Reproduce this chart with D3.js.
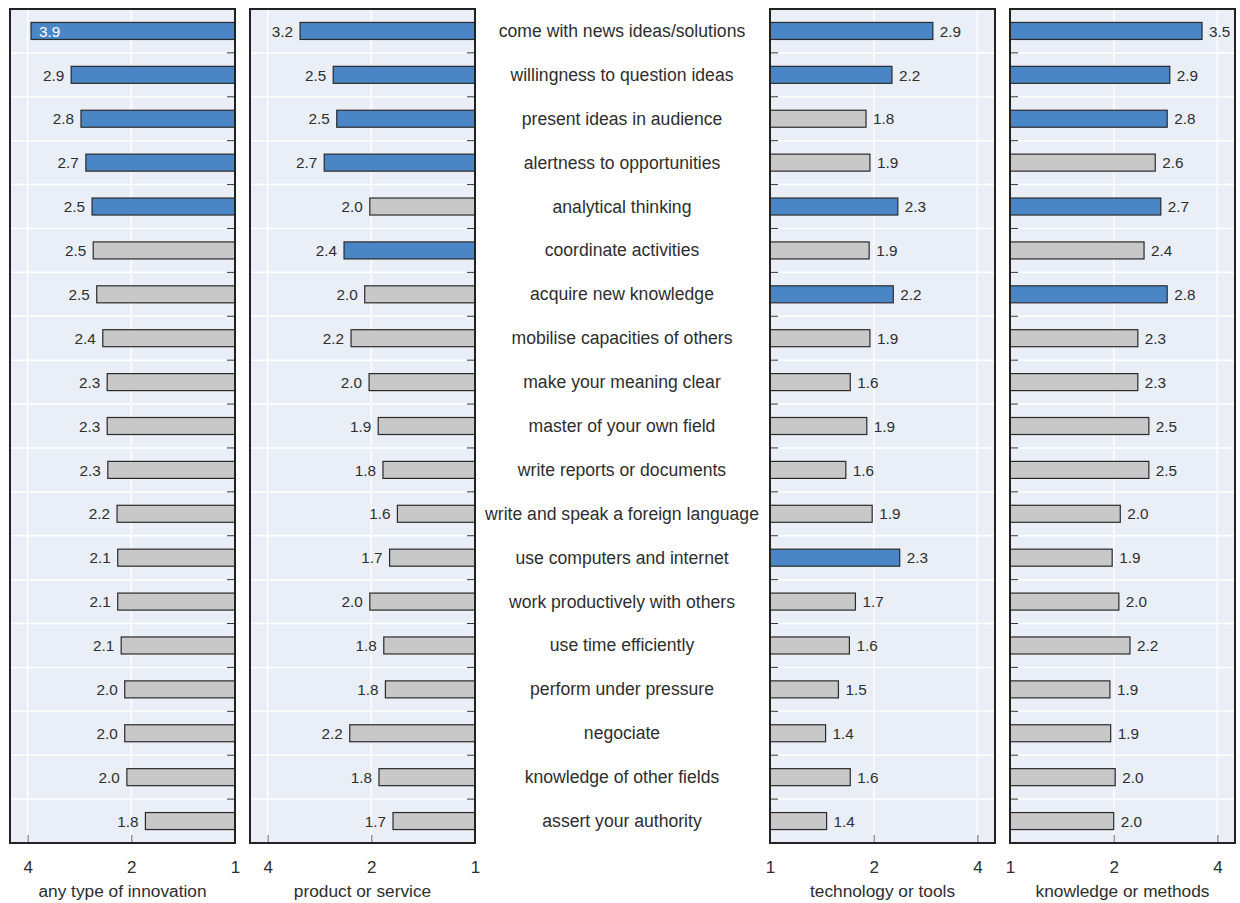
<!DOCTYPE html>
<html>
<head>
<meta charset="utf-8">
<script src="https://cdn.jsdelivr.net/npm/d3@7"></script>
<style>
  body { margin: 0; background: #ffffff; }
  svg text { font-family: "Liberation Sans", Arial, sans-serif; fill: #2e2e2e; }
</style>
</head>
<body>
<svg id="chart" width="1240" height="903"></svg>
<script>
const categories = [
  "come with news ideas/solutions",
  "willingness to question ideas",
  "present ideas in audience",
  "alertness to opportunities",
  "analytical thinking",
  "coordinate activities",
  "acquire new knowledge",
  "mobilise capacities of others",
  "make your meaning clear",
  "master of your own field",
  "write reports or documents",
  "write and speak a foreign language",
  "use computers and internet",
  "work productively with others",
  "use time efficiently",
  "perform under pressure",
  "negociate",
  "knowledge of other fields",
  "assert your authority"
];

// bar values and the printed labels
const anyTypeValues    = [3.91, 2.99, 2.80, 2.71, 2.60, 2.58, 2.52, 2.42, 2.35, 2.35, 2.34, 2.20, 2.19, 2.19, 2.14, 2.09, 2.09, 2.06, 1.82];
const anyTypeLabels    = ["3.9","2.9","2.8","2.7","2.5","2.5","2.5","2.4","2.3","2.3","2.3","2.2","2.1","2.1","2.1","2.0","2.0","2.0","1.8"];
const anyTypeHighlight = [1, 1, 1, 1, 1, 0, 0, 0, 0, 0, 0, 0, 0, 0, 0, 0, 0, 0, 0];

const productValues    = [3.22, 2.58, 2.52, 2.74, 2.02, 2.40, 2.09, 2.29, 2.03, 1.91, 1.85, 1.68, 1.77, 2.02, 1.84, 1.82, 2.31, 1.90, 1.73];
const productLabels    = ["3.2","2.5","2.5","2.7","2.0","2.4","2.0","2.2","2.0","1.9","1.8","1.6","1.7","2.0","1.8","1.8","2.2","1.8","1.7"];
const productHighlight = [1, 1, 1, 1, 0, 1, 0, 0, 0, 0, 0, 0, 0, 0, 0, 0, 0, 0, 0];

const technologyValues    = [2.97, 2.26, 1.90, 1.95, 2.35, 1.94, 2.28, 1.95, 1.71, 1.91, 1.66, 1.98, 2.38, 1.77, 1.70, 1.58, 1.45, 1.71, 1.46];
const technologyLabels    = ["2.9","2.2","1.8","1.9","2.3","1.9","2.2","1.9","1.6","1.9","1.6","1.9","2.3","1.7","1.6","1.5","1.4","1.6","1.4"];
const technologyHighlight = [1, 1, 0, 0, 1, 0, 1, 0, 0, 0, 0, 0, 1, 0, 0, 0, 0, 0, 0];

const knowledgeValues    = [3.61, 2.91, 2.86, 2.64, 2.74, 2.45, 2.86, 2.35, 2.35, 2.53, 2.53, 2.09, 1.98, 2.07, 2.23, 1.95, 1.96, 2.02, 2.00];
const knowledgeLabels    = ["3.5","2.9","2.8","2.6","2.7","2.4","2.8","2.3","2.3","2.5","2.5","2.0","1.9","2.0","2.2","1.9","1.9","2.0","2.0"];
const knowledgeHighlight = [1, 1, 1, 0, 1, 0, 1, 0, 0, 0, 0, 0, 0, 0, 0, 0, 0, 0, 0];

const panelTitles = ["any type of innovation", "product or service", "technology or tools", "knowledge or methods"];
const tickValues = [1, 2, 4];
const tickLabels = ["1", "2", "4"];
const xDomain = [1, 4.5];

const svg = d3.select("#chart");
const W = 225, TOP = 9, BOTTOM = 843;
const BLUE = "#4a86c6", GREY = "#c8c8c8", BG = "#e9eef7";

const panels = [
  { title: panelTitles[0], values: anyTypeValues, labels: anyTypeLabels, hi: anyTypeHighlight, x0: 10, reversed: true },
  { title: panelTitles[1], values: productValues, labels: productLabels, hi: productHighlight, x0: 250, reversed: true },
  { title: panelTitles[2], values: technologyValues, labels: technologyLabels, hi: technologyHighlight, x0: 770, reversed: false },
  { title: panelTitles[3], values: knowledgeValues, labels: knowledgeLabels, hi: knowledgeHighlight, x0: 1010, reversed: false }
];

const y = d3.scaleBand().domain(categories).range([TOP, BOTTOM]).paddingInner(0).paddingOuter(0);
const barH = 17;

// category labels
svg.append("g").selectAll("text").data(categories).join("text")
  .attr("x", 622)
  .attr("y", d => y(d) + y.bandwidth() / 2)
  .attr("dy", "0.34em")
  .attr("text-anchor", "middle")
  .style("font-size", "17.6px")
  .text(d => d);

panels.forEach(p => {
  const x = d3.scaleLog().domain(xDomain)
    .range(p.reversed ? [p.x0 + W, p.x0] : [p.x0, p.x0 + W]);
  const g = svg.append("g");

  g.append("rect").attr("x", p.x0).attr("y", TOP).attr("width", W).attr("height", BOTTOM - TOP)
    .attr("fill", BG);

  // vertical gridlines
  g.append("g").selectAll("line").data(tickValues.filter(t => t > 1)).join("line")
    .attr("x1", d => x(d)).attr("x2", d => x(d))
    .attr("y1", TOP).attr("y2", BOTTOM)
    .attr("stroke", "#ffffff").attr("stroke-width", 1.5);

  // horizontal gridlines between rows
  const bounds = categories.slice(1).map(c => y(c));
  g.append("g").selectAll("line").data(bounds).join("line")
    .attr("x1", p.x0).attr("x2", p.x0 + W)
    .attr("y1", d => d).attr("y2", d => d)
    .attr("stroke", "#ffffff").attr("stroke-width", 1.5);

  // category ticks at the value-1 edge
  const x1 = x(1);
  const dir = p.reversed ? -1 : 1;
  g.append("g").selectAll("line").data(bounds).join("line")
    .attr("x1", x1).attr("x2", x1 + dir * 8)
    .attr("y1", d => d).attr("y2", d => d)
    .attr("stroke", "#333").attr("stroke-width", 1);

  // bars
  const rows = categories.map((c, i) => ({ c, v: p.values[i], label: p.labels[i], hi: p.hi[i] }));
  g.append("g").selectAll("rect").data(rows).join("rect")
    .attr("x", d => Math.min(x(1), x(d.v)))
    .attr("width", d => Math.abs(x(d.v) - x(1)))
    .attr("y", d => y(d.c) + y.bandwidth() / 2 - barH / 2)
    .attr("height", barH)
    .attr("fill", d => d.hi ? BLUE : GREY)
    .attr("stroke", "#2a2a2a").attr("stroke-width", 1.2);

  // value labels
  g.append("g").selectAll("text").data(rows).join("text")
    .each(function (d) {
      const t = d3.select(this);
      const xe = x(d.v);
      const inside = p.reversed ? (xe - 30 < p.x0) : (xe + 30 > p.x0 + W);
      let tx, anchor;
      if (p.reversed) {
        if (inside) { tx = xe + 8; anchor = "start"; } else { tx = xe - 7; anchor = "end"; }
      } else {
        if (inside) { tx = xe - 8; anchor = "end"; } else { tx = xe + 7; anchor = "start"; }
      }
      t.attr("x", tx).attr("text-anchor", anchor)
        .style("fill", inside ? "#ffffff" : "#2e2e2e");
    })
    .attr("y", d => y(d.c) + y.bandwidth() / 2)
    .attr("dy", "0.37em")
    .style("font-size", "15.3px")
    .text(d => d.label);

  // bottom axis
  const axis = d3.axisBottom(x).tickValues(tickValues).tickFormat((d, i) => tickLabels[i])
    .tickSizeInner(-8).tickSizeOuter(0).tickPadding(18);
  const ag = g.append("g").attr("transform", `translate(0,${BOTTOM})`).call(axis);
  ag.select(".domain").remove();
  ag.selectAll(".tick line").attr("stroke", "#666").attr("stroke-width", 1)
    .filter(d => d === 1).remove();
  ag.selectAll(".tick text").style("font-size", "17px").style("fill", "#2e2e2e")
    .attr("font-family", null);

  // frame
  g.append("rect").attr("x", p.x0).attr("y", TOP).attr("width", W).attr("height", BOTTOM - TOP)
    .attr("fill", "none").attr("stroke", "#222").attr("stroke-width", 2);

  // axis title
  g.append("text")
    .attr("x", p.x0 + W / 2).attr("y", 897)
    .attr("text-anchor", "middle")
    .style("font-size", "17.3px")
    .text(p.title);
});
</script>
</body>
</html>
